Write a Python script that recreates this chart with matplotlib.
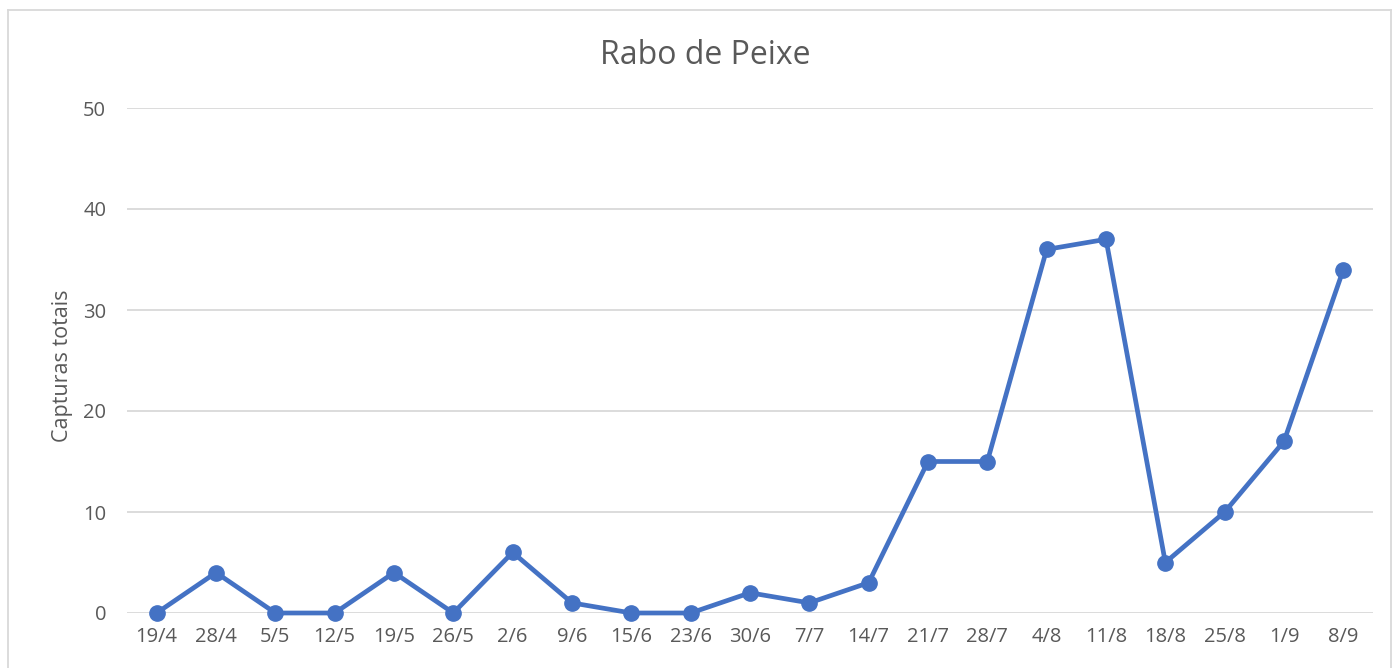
import matplotlib.pyplot as plt
from matplotlib.lines import Line2D

datas = ["19/4", "28/4", "5/5", "12/5", "19/5", "26/5", "2/6", "9/6", "15/6", "23/6", "30/6",
         "7/7", "14/7", "21/7", "28/7", "4/8", "11/8", "18/8", "25/8", "1/9", "8/9"]
capturas = [0, 4, 0, 0, 4, 0, 6, 1, 0, 0, 2, 1, 3, 15, 15, 36, 37, 5, 10, 17, 34]

plt.rcParams['font.family'] = ['Open Sans', 'DejaVu Sans']
cinza = '#595959'

W, H = 1392, 668
fig = plt.figure(figsize=(W / 100, H / 100), dpi=100)
ax = fig.add_axes([127 / W, (H - 613) / H, (1373 - 127) / W, (613 - 108) / H])

x = list(range(len(datas)))
ax.plot(x, capturas, color='#4472C4', linewidth=3.4, marker='o', markersize=11,
        clip_on=False, zorder=3)

ax.set_xlim(-0.5, len(datas) - 0.5)
ax.set_ylim(0, 50)
ax.set_yticks(range(0, 51, 10))
ax.set_xticks(x)
ax.set_xticklabels(datas)
ax.grid(axis='y', color='#D9D9D9', linewidth=1.3)
ax.set_axisbelow(True)
for s in ax.spines.values():
    s.set_visible(False)
ax.tick_params(length=0, labelsize=14.5, colors=cinza)
ax.tick_params(axis='x', pad=10)
ax.tick_params(axis='y', pad=15)
ax.set_ylabel("Capturas totais", fontsize=15.5, color=cinza)
ax.yaxis.set_label_coords((73 - 127) / 1246, 0.49)

fig.text(705 / W, 1 - 55 / H, "Rabo de Peixe", ha='center', va='center', fontsize=23, color=cinza)

# moldura do gráfico
bx0, bx1, by1 = 7.5 / W, 1390.5 / W, 1 - 9.5 / H
for xs, ys in [([bx0, bx0], [0, by1]), ([bx0, bx1], [by1, by1]), ([bx1, bx1], [by1, 0])]:
    fig.add_artist(Line2D(xs, ys, color='#D9D9D9', linewidth=1.3, transform=fig.transFigure))

fig.savefig("out.png", dpi=100)
